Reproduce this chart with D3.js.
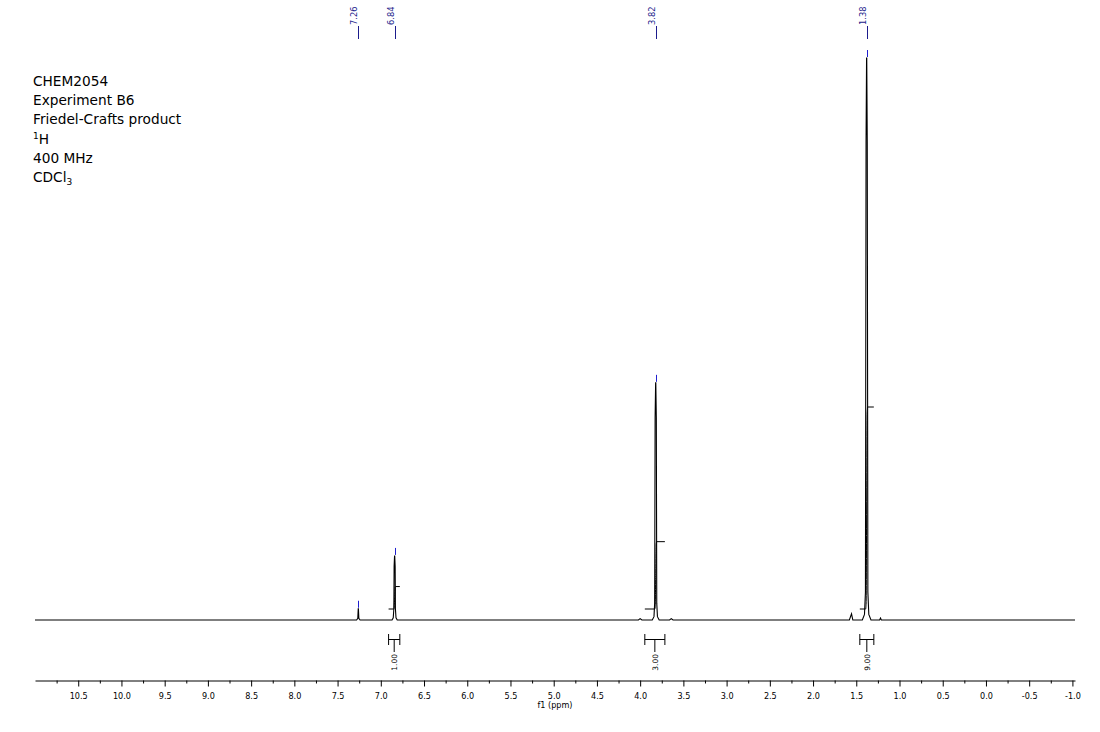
<!DOCTYPE html>
<html>
<head>
<meta charset="utf-8">
<script src="https://cdn.jsdelivr.net/npm/d3@7"></script>
<style>
  html, body { margin: 0; padding: 0; background: #fff; }
  svg { display: block; }
</style>
</head>
<body>
<svg id="chart" width="1100" height="732"></svg>
<script>
// ---- data ----
const infoLines = ["CHEM2054", "Experiment B6", "Friedel-Crafts product", "1H", "400 MHz", "CDCl3"];

// spectrum trace: [ppm, relative intensity]
const spectrum = [
  [11.0, 0],
  [7.28, 0], [7.266, 0.3], [7.261, 2.0], [7.259, 2.0], [7.254, 0.3], [7.24, 0],
  [6.87, 0], [6.856, 0.4], [6.849, 2.0], [6.846, 9.5], [6.841, 11.4], [6.839, 11.4], [6.834, 9.5], [6.831, 2.0], [6.824, 0.4], [6.81, 0],
  [4.02, 0], [4.0, 0.25], [3.98, 0],
  [3.86, 0], [3.84, 0.6], [3.832, 3.0], [3.827, 36], [3.821, 42.2], [3.819, 42.2], [3.813, 36], [3.808, 3.0], [3.80, 0.6], [3.78, 0],
  [3.66, 0], [3.64, 0.25], [3.62, 0],
  [1.58, 0], [1.555, 1.1], [1.54, 0],
  [1.43, 0], [1.405, 1.0], [1.394, 5], [1.387, 85], [1.381, 100], [1.379, 100], [1.373, 85], [1.366, 5], [1.355, 1.0], [1.33, 0],
  [1.23, 0], [1.22, 0.35], [1.21, 0],
  [-1.03, 0]
];

const peakLabels = [7.26, 6.84, 3.82, 1.38];

const integrals = [
  { from: 6.91, to: 6.78, center: 6.84, value: 1.00 },
  { from: 3.946, to: 3.714, center: 3.82, value: 3.00 },
  { from: 1.459, to: 1.297, center: 1.38, value: 9.00 }
];

const majorTicks = [10.5, 10.0, 9.5, 9.0, 8.5, 8.0, 7.5, 7.0, 6.5, 6.0, 5.5, 5.0, 4.5, 4.0, 3.5, 3.0, 2.5, 2.0, 1.5, 1.0, 0.5, 0.0, -0.5, -1.0];
const minorTicks = [10.75, 10.25, 9.75, 9.25, 8.75, 8.25, 7.75, 7.25, 6.75, 6.25, 5.75, 5.25, 4.75, 4.25, 3.75, 3.25, 2.75, 2.25, 1.75, 1.25, 0.75, 0.25, -0.25, -0.75];
const axisTitle = "f1 (ppm)";

// ---- drawing ----
const svg = d3.select("#chart");
const FONT = "'DejaVu Sans', Verdana, sans-serif";
const NAVY = "#1c1c8c";
const BLUE = "#2020d0";

const x = d3.scaleLinear().domain([11.0, -1.03]).range([35, 1075]);
const y = d3.scaleLinear().domain([0, 100]).range([620, 58]);
const yInt = d3.scaleLinear().domain([0, 9]).range([609, 407]);

// info text
const info = svg.append("text")
  .attr("font-family", FONT).attr("font-size", 13.7).attr("fill", "#000");
infoLines.forEach((s, i) => {
  const t = info.append("tspan").attr("x", 33).attr("y", 86 + i * 19.2);
  if (s === "1H") {
    t.append("tspan").attr("font-size", 9).attr("dy", -5).text("1");
    t.append("tspan").attr("dy", 5).text("H");
  } else if (s === "CDCl3") {
    t.text("CDCl");
    t.append("tspan").attr("font-size", 9).attr("dy", 3).text("3");
  } else {
    t.text(s);
  }
});

// spectrum line
const line = d3.line().x(d => x(d[0])).y(d => y(d[1]));
svg.append("path").datum(spectrum)
  .attr("d", line).attr("fill", "none").attr("stroke", "#000").attr("stroke-width", 1.1);

// peak labels + markers
const peakTop = p => d3.max(spectrum.filter(d => Math.abs(d[0] - p) < 0.005), d => d[1]) || 0;
peakLabels.forEach(p => {
  const px = Math.round(x(p)) + 0.5;
  svg.append("line").attr("x1", px).attr("x2", px).attr("y1", 26).attr("y2", 39)
    .attr("stroke", NAVY).attr("stroke-width", 1);
  svg.append("text")
    .attr("transform", `translate(${px - 1.5},25) rotate(-90)`)
    .attr("font-family", FONT).attr("font-size", 8.3).attr("fill", NAVY)
    .attr("text-anchor", "start").text(p.toFixed(2));
  const ty = y(peakTop(p));
  svg.append("line").attr("x1", px).attr("x2", px).attr("y1", ty - 8).attr("y2", ty - 1)
    .attr("stroke", BLUE).attr("stroke-width", 1);
});

// integrals
integrals.forEach(g => {
  const v = g.value;
  const curve = [[g.from, 0], [g.center + 0.012, 0], [g.center + 0.006, 0.03 * v], [g.center, 0.5 * v],
                 [g.center - 0.006, 0.97 * v], [g.center - 0.012, v], [g.to, v]];
  svg.append("path").datum(curve)
    .attr("d", d3.line().x(d => x(d[0])).y(d => yInt(d[1])).curve(d3.curveMonotoneX))
    .attr("fill", "none").attr("stroke", "#000").attr("stroke-width", 1);

  const x1 = x(g.from), x2 = x(g.to), xm = (x1 + x2) / 2;
  const by = 639.5;
  const gg = svg.append("g").attr("stroke", "#000").attr("stroke-width", 1);
  gg.append("line").attr("x1", x1).attr("x2", x2).attr("y1", by).attr("y2", by);
  gg.append("line").attr("x1", x1).attr("x2", x1).attr("y1", by - 5.5).attr("y2", by + 5.5);
  gg.append("line").attr("x1", x2).attr("x2", x2).attr("y1", by - 5.5).attr("y2", by + 5.5);
  gg.append("line").attr("x1", xm).attr("x2", xm).attr("y1", by).attr("y2", 652);
  svg.append("text")
    .attr("transform", `translate(${xm + 2.8},654) rotate(-90)`)
    .attr("font-family", FONT).attr("font-size", 7.5).attr("fill", "#000")
    .attr("text-anchor", "end").text(v.toFixed(2));
});

// axis
const axisY = 680.5;
const gMajor = svg.append("g").attr("transform", `translate(0,${axisY})`)
  .call(d3.axisBottom(x).tickValues(majorTicks).tickFormat(d => d.toFixed(1))
    .tickSize(6).tickSizeOuter(0).tickPadding(7));
gMajor.select(".domain").attr("stroke", "#000");
gMajor.selectAll("text").attr("font-family", FONT).attr("font-size", 8.1).attr("fill", "#000");
gMajor.selectAll(".tick line").attr("stroke", "#000");

const gMinor = svg.append("g").attr("transform", `translate(0,${axisY})`)
  .call(d3.axisBottom(x).tickValues(minorTicks).tickFormat("").tickSize(3).tickSizeOuter(0));
gMinor.select(".domain").remove();
gMinor.selectAll(".tick line").attr("stroke", "#000");

svg.append("text").attr("x", 555).attr("y", 707.5)
  .attr("text-anchor", "middle").attr("font-family", FONT).attr("font-size", 8.1)
  .attr("fill", "#000").text(axisTitle);
</script>
</body>
</html>
